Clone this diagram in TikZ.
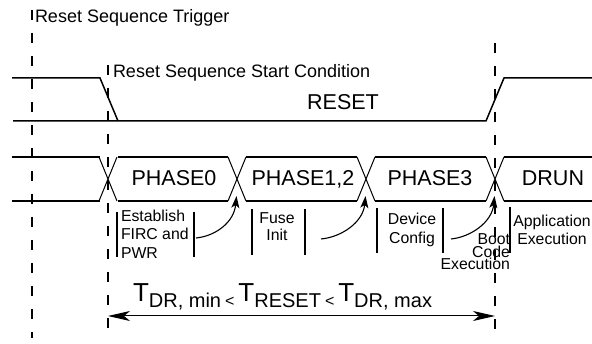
\documentclass[tikz,border=0pt]{standalone}
\usepackage{fontspec}
\setmainfont{Liberation Sans}
\usetikzlibrary{arrows.meta}
\newcommand{\myT}{{\fontsize{26}{26}\selectfont T}}
\newcommand{\mysub}[1]{\raisebox{-6.5pt}{\fontsize{20}{20}\selectfont #1}}
\newcommand{\mylt}{\raisebox{-5pt}{\fontsize{16}{16}\selectfont\hspace{4pt}<\hspace{4pt}}}
\newcommand{\mystackl}[2]{\vtop{\baselineskip=#1\lineskiplimit=-100pt\halign{##\hfil\cr#2\crcr}}}
\newcommand{\mystackc}[2]{\vtop{\baselineskip=#1\lineskiplimit=-100pt\halign{\hfil##\hfil\cr#2\crcr}}}
\newcommand{\mystackr}[2]{\vtop{\baselineskip=#1\lineskiplimit=-100pt\halign{\hfil##\cr#2\crcr}}}
\begin{document}
\begin{tikzpicture}[x=1pt,y=-1pt,
  every node/.style={inner sep=0pt,outer sep=0pt},
  sig/.style={line width=1.5pt},
  xing/.style={line width=1pt},
  dashline/.style={line width=2pt,dash pattern=on 10pt off 13pt},
  bar/.style={line width=2pt},
  curvarr/.style={line width=1.1pt,-{Stealth[length=12pt,width=8pt,inset=3pt]}},
  durarr/.style={line width=1pt,{Stealth[length=22pt,width=10pt,inset=6pt]}-{Stealth[length=22pt,width=10pt,inset=6pt]}},
  small/.style={font=\fontsize{18}{18}\selectfont},
  big/.style={font=\fontsize{21.5}{21.5}\selectfont},
  lbl/.style={font=\fontsize{15.8}{18.3}\selectfont}
]
\useasboundingbox (0,0) rectangle (592,344);

% dashed markers
\coordinate (d1t) at (32,10);  \coordinate (d1b) at (32,338);
\coordinate (d2t) at (108,65); \coordinate (d2b) at (108,338);
\coordinate (d3t) at (495,43); \coordinate (d3b) at (495,338);
\draw[dashline] (d1t) -- (d1b);
\draw[dashline] (d2t) -- (d2b);
\draw[dashline] (d3t) -- (d3b);

\node[small,anchor=base west] (trig) at (35,23) {Reset Sequence Trigger};
\node[small,anchor=base west] (startc) at (113,77.5) {Reset Sequence Start Condition};

% RESET signal
\draw[sig] (12,78) -- (100,78) -- (118,121);
\draw[sig] (13,121) -- (486,121) -- (504,78) -- (592,78);
\node[big,anchor=base] (reset) at (343,110) {RESET};

% phase bus
\draw[sig] (12,157) -- (100,157);
\draw[sig] (12,201) -- (100,201);
\foreach \a/\b in {118/228, 246/357, 375/486, 504/592} {
  \draw[sig] (\a,157) -- (\b,157);
  \draw[sig] (\a,201) -- (\b,201);
}
\foreach \c in {108,237,366,495} {
  \draw[xing] (\c-9,157) -- (\c+9,201);
  \draw[xing] (\c-9,201) -- (\c+9,157);
}
\node[big,anchor=base] (ph0) at (174,185.7) {PHASE0};
\node[big,anchor=base] (ph12) at (303,185.7) {PHASE1,2};
\node[big,anchor=base] (ph3) at (430,185.7) {PHASE3};
\node[big,anchor=base] (drun) at (553,185.7) {DRUN};

% bars
\draw[bar] (117,212) -- (117,257);
\draw[bar] (194,212) -- (194,257);
\draw[bar] (252,209) -- (252,255);
\draw[bar] (305,209) -- (305,255);
\draw[bar] (377,208) -- (377,253);
\draw[bar] (443,208) -- (443,253);
\draw[bar] (510,207) -- (510,253);

% labels
\node[lbl,anchor=base west] (estab) at (121,221.7) {\mystackl{18.3pt}{Establish\cr FIRC and\cr PWR}};
\node[lbl,anchor=base] (fuse) at (277,223.3) {\mystackc{17.4pt}{Fuse\cr Init}};
\node[lbl,anchor=base] (dev) at (412,225) {\mystackc{18.3pt}{Device\cr Config}};
\node[lbl,anchor=base] (app) at (552,226.7) {\mystackc{17.6pt}{Application\cr Execution}};
\node[lbl,anchor=base east] (boot) at (510,245) {\mystackr{12.5pt}{Boot\cr Code\cr Execution}};

% curved arrows
\coordinate (a1s) at (196,238); \coordinate (a1e) at (236.5,196);
\coordinate (a2s) at (321,239); \coordinate (a2e) at (365.5,196);
\coordinate (a3s) at (451,239); \coordinate (a3e) at (494.5,196);
\draw[curvarr] (a1s) .. controls (216,236) and (234,222) .. (a1e);
\draw[curvarr] (a2s) .. controls (342,237) and (363,222) .. (a2e);
\draw[curvarr] (a3s) .. controls (471,237) and (492,222) .. (a3e);

% duration
\coordinate (arrL) at (108,316); \coordinate (arrR) at (495,316);
\draw[durarr] (arrL) -- (arrR);
\node[anchor=base west] (tdr) at (133,301.5) {\myT\mysub{DR, min}\mylt\myT\mysub{RESET}\mylt\myT\mysub{DR, max}};
\end{tikzpicture}
\end{document}
